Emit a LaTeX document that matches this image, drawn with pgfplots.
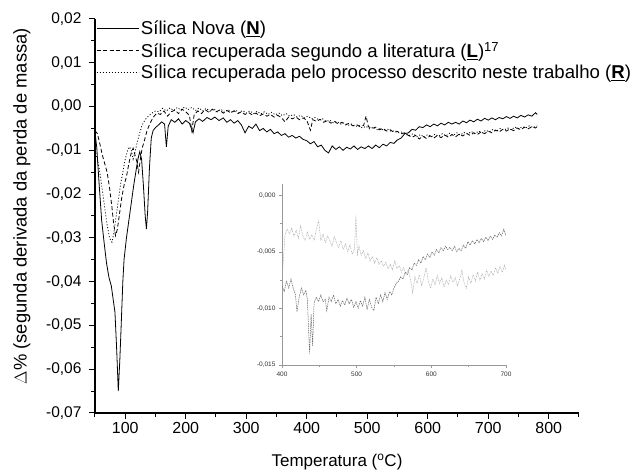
\documentclass[border=0pt]{standalone}
\usepackage{fontspec}
\setmainfont{Liberation Sans}
\usepackage{pgfplots}
\pgfplotsset{compat=1.18}

\begin{document}
\begin{tikzpicture}
\path[use as bounding box] (-95pt,-60pt) rectangle (538pt,413pt);
\begin{axis}[
  name=main,
  at={(0,0)}, anchor=south west,
  scale only axis,
  width=484pt, height=394pt,
  xmin=50, xmax=850, ymin=-0.07, ymax=0.02,
  axis lines*=left,
  axis line style={line width=1.2pt},
  tick align=outside,
  major tick length=6pt, minor tick length=4pt,
  every tick/.style={black, line width=1pt},
  xtick={100,200,...,800},
  minor xtick={50,150,...,850},
  ytick={-0.07,-0.06,...,0.02},
  minor ytick={-0.065,-0.055,...,0.015},
  /pgf/number format/assume math mode=true,
  yticklabel style={font=\fontsize{15.5}{18}\selectfont, xshift=-4pt,
    /pgf/number format/.cd, fixed, fixed zerofill, precision=2, use comma},
  scaled y ticks=false,
  xticklabel style={font=\fontsize{16}{18}\selectfont},
  xlabel={Temperatura (\textsuperscript{o}C)},
  xlabel style={font=\fontsize{17}{20}\selectfont, at={(axis description cs:0.5,-0.124)}, anchor=center},
  ylabel={$\Delta$\% (segunda derivada da perda de massa)},
  ylabel style={font=\fontsize{18.4}{21}\selectfont, at={(axis description cs:-0.151,0.525)}, anchor=center},
  legend style={draw=none, fill=none, at={(0,1)}, anchor=north west,
    font=\fontsize{18.6}{21}\selectfont, row sep=2pt, xshift=-2pt, yshift=2pt},
  legend cell align=left,
  legend image code/.code={\draw[#1] (0pt,0pt) -- (42pt,0pt);},
]
\addplot[black, line width=0.8pt] coordinates {
(50,-0.0058) (53,-0.0095) (56,-0.016) (58,-0.020) (61,-0.026) (65,-0.031) (69,-0.0357) (73,-0.039) (77,-0.041) (80,-0.044) (83,-0.047) (86,-0.056) (88.5,-0.065) (91,-0.058) (93,-0.051) (96,-0.040) (98,-0.035) (102,-0.030) (106,-0.026) (110,-0.022) (114,-0.018) (118,-0.0145) (121,-0.012) (124,-0.0103) (127,-0.012) (130,-0.018) (133,-0.025) (135,-0.028) (137,-0.024) (140,-0.014) (143,-0.0072) (146,-0.0055) (150,-0.0048) (155,-0.0042) (160,-0.0035) (165,-0.0040) (168,-0.0092) (171,-0.0045) (176,-0.0030) (182,-0.0036) (188,-0.0028) (194,-0.0040) (200,-0.0032) (206,-0.0038) (212,-0.0060) (216,-0.0035) (222,-0.0028) (228,-0.0034) (235,-0.0025) (242,-0.0030) (248,-0.0024) (255,-0.0032) (262,-0.0026) (268,-0.0036) (274,-0.0030) (280,-0.0038) (286,-0.0032) (292,-0.0042) (298,-0.0060) (304,-0.0045) (310,-0.0050) (316,-0.0040) (322,-0.0055) (328,-0.0050) (334,-0.0058) (340,-0.0052) (346,-0.0062) (352,-0.0058) (358,-0.0066) (364,-0.0062) (370,-0.0070) (376,-0.0066) (382,-0.0072) (388,-0.0068) (394,-0.0075) (400,-0.0078) (406,-0.0085) (412,-0.0080) (418,-0.0092) (424,-0.0088) (430,-0.0100) (436,-0.0106) (442,-0.0090) (448,-0.0098) (454,-0.0092) (460,-0.0100) (466,-0.0093) (472,-0.0097) (478,-0.0090) (484,-0.0098) (490,-0.0092) (496,-0.0096) (502,-0.0090) (508,-0.0096) (514,-0.0088) (520,-0.0094) (526,-0.0086) (532,-0.0090) (538,-0.0082) (544,-0.0084) (550,-0.0076) (556,-0.0072) (562,-0.0062) (568,-0.0060) (574,-0.0052) (580,-0.0054) (586,-0.0046) (592,-0.0048) (598,-0.0042) (604,-0.0046) (610,-0.0040) (616,-0.0044) (622,-0.0038) (628,-0.0042) (634,-0.0036) (640,-0.0040) (646,-0.0036) (652,-0.0040) (658,-0.0033) (664,-0.0037) (670,-0.0031) (676,-0.0035) (682,-0.0029) (688,-0.0033) (694,-0.0027) (700,-0.0031) (706,-0.0026) (712,-0.0030) (718,-0.0025) (724,-0.0028) (730,-0.0023) (736,-0.0027) (742,-0.0022) (748,-0.0026) (754,-0.0020) (760,-0.0024) (766,-0.0019) (772,-0.0022) (778,-0.0014) (781,-0.0018)
};
\addlegendentry{Sílica Nova (\underline{\textbf{N}})}
\addplot[black, line width=0.8pt, dash pattern=on 4pt off 2.5pt] coordinates {
(50,-0.0055) (54,-0.0062) (58,-0.0085) (62,-0.0110) (66,-0.0130) (70,-0.0150) (74,-0.0185) (78,-0.023) (81,-0.027) (84,-0.0295) (87,-0.028) (90,-0.025) (94,-0.021) (98,-0.018) (102,-0.016) (106,-0.013) (110,-0.0105) (113,-0.0095) (116,-0.011) (119,-0.0125) (122,-0.0150) (125,-0.012) (128,-0.0095) (132,-0.0076) (136,-0.0055) (141,-0.0038) (146,-0.0025) (152,-0.0015) (158,-0.0018) (164,-0.0010) (170,-0.0022) (176,-0.0012) (182,-0.0008) (188,-0.0016) (194,-0.0006) (200,-0.0012) (206,-0.0020) (210,-0.0055) (214,-0.0018) (220,-0.0010) (226,-0.0016) (232,-0.0007) (238,-0.0013) (244,-0.0006) (250,-0.0012) (256,-0.0008) (262,-0.0015) (268,-0.0009) (274,-0.0014) (280,-0.0010) (286,-0.0016) (292,-0.0012) (298,-0.0018) (304,-0.0014) (310,-0.0019) (316,-0.0015) (322,-0.0021) (328,-0.0017) (334,-0.0022) (340,-0.0018) (346,-0.0024) (352,-0.0020) (358,-0.0025) (364,-0.0035) (370,-0.0024) (376,-0.0028) (382,-0.0024) (388,-0.0030) (394,-0.0026) (400,-0.0031) (406,-0.0054) (410,-0.0030) (416,-0.0034) (422,-0.0029) (428,-0.0036) (434,-0.0032) (440,-0.0038) (446,-0.0034) (452,-0.0040) (458,-0.0036) (464,-0.0042) (470,-0.0038) (476,-0.0044) (482,-0.0041) (488,-0.0046) (494,-0.0043) (498,-0.0022) (502,-0.0046) (508,-0.0050) (514,-0.0047) (520,-0.0053) (526,-0.0050) (532,-0.0056) (538,-0.0053) (544,-0.0059) (550,-0.0057) (556,-0.0062) (562,-0.0060) (568,-0.0066) (574,-0.0070) (580,-0.0066) (586,-0.0074) (592,-0.0068) (598,-0.0073) (604,-0.0067) (610,-0.0072) (616,-0.0066) (622,-0.0071) (628,-0.0065) (634,-0.0070) (640,-0.0064) (646,-0.0069) (652,-0.0063) (658,-0.0067) (664,-0.0061) (670,-0.0066) (676,-0.0060) (682,-0.0064) (688,-0.0058) (694,-0.0062) (700,-0.0056) (706,-0.0060) (712,-0.0054) (718,-0.0058) (724,-0.0052) (730,-0.0056) (736,-0.0051) (742,-0.0055) (748,-0.0049) (754,-0.0053) (760,-0.0047) (766,-0.0051) (772,-0.0046) (778,-0.0049) (781,-0.0046)
};
\addlegendentry{Sílica recuperada segundo a literatura (\underline{\textbf{L}})\textsuperscript{17}}
\addplot[black, line width=0.8pt, dash pattern=on 1pt off 2pt] coordinates {
(50,-0.010) (54,-0.012) (58,-0.015) (62,-0.019) (66,-0.023) (70,-0.027) (74,-0.030) (78,-0.031) (81,-0.029) (84,-0.026) (88,-0.022) (92,-0.018) (96,-0.015) (100,-0.012) (104,-0.010) (107,-0.0092) (110,-0.010) (113,-0.012) (116,-0.0105) (120,-0.0080) (124,-0.0060) (128,-0.0042) (133,-0.0030) (138,-0.0022) (144,-0.0015) (150,-0.0010) (156,-0.0012) (162,-0.0004) (168,-0.0010) (174,-0.0003) (180,-0.0009) (186,-0.0002) (192,-0.0008) (198,-0.0001) (204,-0.0007) (210,-0.0002) (216,-0.0009) (222,-0.0003) (228,-0.0010) (234,-0.0004) (240,-0.0011) (246,-0.0005) (252,-0.0012) (258,-0.0006) (264,-0.0013) (270,-0.0007) (276,-0.0013) (282,-0.0008) (288,-0.0014) (294,-0.0009) (300,-0.0015) (306,-0.0010) (312,-0.0016) (318,-0.0011) (324,-0.0017) (330,-0.0012) (336,-0.0018) (342,-0.0013) (348,-0.0019) (354,-0.0015) (360,-0.0021) (366,-0.0016) (372,-0.0022) (378,-0.0018) (384,-0.0024) (390,-0.0020) (396,-0.0026) (402,-0.0022) (408,-0.0028) (414,-0.0025) (420,-0.0031) (426,-0.0028) (432,-0.0034) (438,-0.0031) (444,-0.0037) (450,-0.0034) (456,-0.0040) (462,-0.0037) (468,-0.0043) (474,-0.0040) (480,-0.0046) (486,-0.0043) (492,-0.0049) (498,-0.0045) (504,-0.0051) (510,-0.0047) (516,-0.0053) (522,-0.0050) (528,-0.0055) (534,-0.0052) (540,-0.0057) (546,-0.0055) (552,-0.0060) (558,-0.0058) (564,-0.0064) (570,-0.0066) (576,-0.0062) (582,-0.0069) (588,-0.0064) (594,-0.0070) (600,-0.0064) (606,-0.0069) (612,-0.0063) (618,-0.0068) (624,-0.0062) (630,-0.0067) (636,-0.0061) (642,-0.0066) (648,-0.0060) (654,-0.0065) (660,-0.0059) (666,-0.0063) (672,-0.0057) (678,-0.0062) (684,-0.0056) (690,-0.0060) (696,-0.0054) (702,-0.0058) (708,-0.0052) (714,-0.0056) (720,-0.0050) (726,-0.0054) (732,-0.0049) (738,-0.0053) (744,-0.0047) (750,-0.0051) (756,-0.0046) (762,-0.0049) (768,-0.0044) (774,-0.0048) (781,-0.0044)
};
\addlegendentry{Sílica recuperada pelo processo descrito neste trabalho (\underline{\textbf{R}})}
\end{axis}

\begin{axis}[
  at={(187pt,48pt)}, anchor=south west,
  scale only axis,
  width=224pt, height=181pt,
  xmin=400, xmax=700, ymin=-0.015, ymax=0.001,
  axis lines*=left,
  axis line style={gray!80, line width=0.6pt},
  tick align=outside,
  major tick length=3pt, minor tick length=2pt,
  every tick/.style={gray!80, line width=0.5pt},
  xtick={400,500,600,700},
  minor xtick={450,550,650},
  ytick={-0.015,-0.01,-0.005,0},
  minor ytick={-0.0125,-0.0075,-0.0025},
  /pgf/number format/assume math mode=true,
  tick label style={font=\fontsize{6.5}{7.5}\selectfont, text=black!80},
  yticklabel style={/pgf/number format/.cd, fixed, fixed zerofill, precision=3, use comma},
  scaled y ticks=false,
]
\addplot[black!60, line width=0.5pt, dash pattern=on 1.5pt off 0.8pt] coordinates {
(400,-0.0080) (403,-0.0085) (406,-0.0076) (409,-0.0082) (412,-0.0074) (415,-0.0082) (418,-0.0088) (420,-0.0103) (423,-0.0090) (426,-0.0082) (429,-0.0088) (432,-0.0084) (434,-0.0092) (436,-0.0125) (437,-0.0140) (439,-0.0105) (441,-0.0133) (443,-0.0095) (446,-0.0090) (449,-0.0094) (452,-0.0088) (455,-0.0094) (458,-0.0092) (460,-0.0102) (463,-0.0090) (466,-0.0094) (469,-0.0088) (472,-0.0096) (475,-0.0092) (478,-0.0098) (481,-0.0093) (484,-0.0097) (487,-0.0091) (490,-0.0096) (493,-0.0092) (496,-0.0099) (499,-0.0094) (502,-0.0100) (505,-0.0093) (508,-0.0098) (511,-0.0090) (514,-0.0101) (517,-0.0092) (520,-0.0099) (523,-0.0102) (526,-0.0090) (529,-0.0096) (532,-0.0088) (535,-0.0094) (538,-0.0086) (541,-0.0092) (544,-0.0085) (547,-0.0088) (550,-0.0082) (553,-0.0078) (556,-0.0076) (559,-0.0072) (562,-0.0074) (565,-0.0068) (568,-0.0070) (571,-0.0064) (574,-0.0066) (577,-0.0060) (580,-0.0062) (583,-0.0057) (586,-0.0060) (589,-0.0054) (592,-0.0057) (595,-0.0052) (598,-0.0055) (601,-0.0050) (604,-0.0053) (607,-0.0048) (610,-0.0051) (613,-0.0046) (616,-0.0049) (619,-0.0045) (622,-0.0048) (625,-0.0046) (628,-0.0049) (631,-0.0045) (634,-0.0050) (637,-0.0047) (640,-0.0049) (643,-0.0044) (646,-0.0047) (649,-0.0041) (652,-0.0044) (655,-0.0040) (658,-0.0043) (661,-0.0039) (664,-0.0042) (667,-0.0038) (670,-0.0041) (673,-0.0037) (676,-0.0040) (679,-0.0036) (682,-0.0039) (685,-0.0035) (688,-0.0037) (691,-0.0033) (694,-0.0036) (697,-0.0030) (700,-0.0036)
};
\addplot[black!35, line width=0.5pt, dash pattern=on 0.8pt off 0.8pt] coordinates {
(400,-0.0075) (402,-0.0055) (404,-0.0035) (407,-0.0030) (410,-0.0034) (413,-0.0029) (416,-0.0036) (419,-0.0031) (422,-0.0038) (425,-0.0027) (428,-0.0036) (431,-0.0040) (434,-0.0032) (437,-0.0039) (440,-0.0035) (443,-0.0040) (446,-0.0030) (449,-0.0022) (452,-0.0040) (455,-0.0034) (458,-0.0042) (461,-0.0036) (464,-0.0040) (467,-0.0045) (470,-0.0036) (473,-0.0042) (476,-0.0046) (479,-0.0040) (482,-0.0048) (485,-0.0043) (488,-0.0050) (491,-0.0044) (494,-0.0052) (497,-0.0048) (499,-0.0018) (501,-0.0052) (503,-0.0045) (506,-0.0053) (509,-0.0049) (512,-0.0056) (515,-0.0051) (518,-0.0058) (521,-0.0054) (524,-0.0060) (527,-0.0055) (530,-0.0061) (533,-0.0058) (536,-0.0063) (539,-0.0059) (542,-0.0065) (545,-0.0061) (548,-0.0066) (551,-0.0058) (554,-0.0065) (557,-0.0062) (560,-0.0068) (563,-0.0064) (566,-0.0070) (569,-0.0066) (572,-0.0074) (575,-0.0086) (578,-0.0072) (581,-0.0078) (584,-0.0070) (587,-0.0080) (590,-0.0073) (593,-0.0064) (596,-0.0076) (599,-0.0082) (602,-0.0074) (605,-0.0079) (608,-0.0071) (611,-0.0078) (614,-0.0073) (617,-0.0081) (620,-0.0075) (623,-0.0079) (626,-0.0071) (629,-0.0077) (632,-0.0073) (635,-0.0080) (638,-0.0074) (641,-0.0066) (644,-0.0078) (647,-0.0082) (650,-0.0072) (653,-0.0078) (656,-0.0070) (659,-0.0076) (662,-0.0068) (665,-0.0075) (668,-0.0069) (671,-0.0074) (674,-0.0066) (677,-0.0072) (680,-0.0067) (683,-0.0071) (686,-0.0064) (689,-0.0069) (692,-0.0063) (695,-0.0068) (698,-0.0062) (700,-0.0066)
};
\end{axis}
\end{tikzpicture}
\end{document}
